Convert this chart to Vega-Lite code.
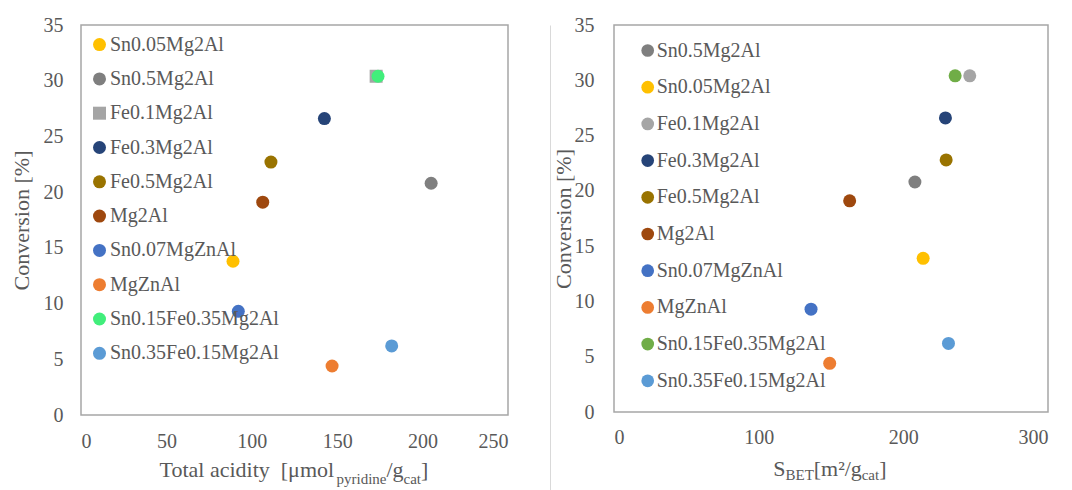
{
  "$schema": "https://vega.github.io/schema/vega-lite/v6.json",
  "padding": {"left": 9, "top": 14, "right": 0, "bottom": 0},
  "bounds": "flush",
  "spacing": 42,
  "datasets": {
    "left": [
      {"series": "Sn0.05Mg2Al", "x": 89, "y": 13.8},
      {"series": "Sn0.5Mg2Al", "x": 205, "y": 20.8},
      {"series": "Fe0.1Mg2Al", "x": 172.8, "y": 30.4},
      {"series": "Fe0.3Mg2Al", "x": 142.5, "y": 26.6},
      {"series": "Fe0.5Mg2Al", "x": 111.2, "y": 22.7},
      {"series": "Mg2Al", "x": 106.4, "y": 19.1},
      {"series": "Sn0.07MgZnAl", "x": 92.1, "y": 9.3},
      {"series": "MgZnAl", "x": 147, "y": 4.4},
      {"series": "Sn0.15Fe0.35Mg2Al", "x": 173.9, "y": 30.4},
      {"series": "Sn0.35Fe0.15Mg2Al", "x": 181.9, "y": 6.2}
    ],
    "right": [
      {"series": "Sn0.5Mg2Al", "x": 208, "y": 20.8},
      {"series": "Sn0.05Mg2Al", "x": 213.7, "y": 13.9},
      {"series": "Fe0.1Mg2Al", "x": 245.9, "y": 30.4},
      {"series": "Fe0.3Mg2Al", "x": 229.1, "y": 26.6},
      {"series": "Fe0.5Mg2Al", "x": 229.6, "y": 22.8},
      {"series": "Mg2Al", "x": 162.9, "y": 19.1},
      {"series": "Sn0.07MgZnAl", "x": 136.2, "y": 9.3},
      {"series": "MgZnAl", "x": 149.1, "y": 4.4},
      {"series": "Sn0.15Fe0.35Mg2Al", "x": 235.8, "y": 30.4},
      {"series": "Sn0.35Fe0.15Mg2Al", "x": 231.2, "y": 6.2}
    ]
  },
  "hconcat": [
    {
      "width": 427,
      "height": 390,
      "data": {"name": "left"},
      "layer": [
        {
          "mark": {"type": "point", "filled": true, "opacity": 1, "strokeWidth": 0},
          "encoding": {
            "x": {"field": "x", "type": "quantitative", "scale": {"domain": [0, 250], "nice": false, "zero": false},
              "axis": {"orient": "bottom", "values": [0, 50, 100, 150, 200, 250], "title": "Total acidity\u00a0 [μmol", "titleX": 78, "titleY": 61.5, "titleAlign": "left", "titleBaseline": "alphabetic", "titleAngle": 0}},
            "y": {"field": "y", "type": "quantitative", "scale": {"domain": [0, 35], "nice": false},
              "axis": {"values": [0, 5, 10, 15, 20, 25, 30, 35], "title": "Conversion [%]", "titleX": -60, "titleAlign": "center", "titleBaseline": "middle", "labelPadding": 18}},
            "color": {"field": "series", "type": "nominal",
              "scale": {"domain": ["Sn0.05Mg2Al", "Sn0.5Mg2Al", "Fe0.1Mg2Al", "Fe0.3Mg2Al", "Fe0.5Mg2Al", "Mg2Al", "Sn0.07MgZnAl", "MgZnAl", "Sn0.15Fe0.35Mg2Al", "Sn0.35Fe0.15Mg2Al"],
                "range": ["#FFC000", "#7F7F7F", "#A5A5A5", "#264478", "#997300", "#9E480E", "#4472C4", "#ED7D31", "#41EE7B", "#5B9BD5"]},
              "legend": {"title": null, "orient": "none", "legendX": 8.5, "legendY": 9.6, "rowPadding": 14.3, "labelOffset": 0.5, "symbolSize": 121}},
            "shape": {"field": "series", "type": "nominal",
              "scale": {"domain": ["Sn0.05Mg2Al", "Sn0.5Mg2Al", "Fe0.1Mg2Al", "Fe0.3Mg2Al", "Fe0.5Mg2Al", "Mg2Al", "Sn0.07MgZnAl", "MgZnAl", "Sn0.15Fe0.35Mg2Al", "Sn0.35Fe0.15Mg2Al"],
                "range": ["circle", "circle", "square", "circle", "circle", "circle", "circle", "circle", "circle", "circle"]}},
            "size": {"field": "series", "type": "nominal",
              "scale": {"domain": ["Sn0.05Mg2Al", "Sn0.5Mg2Al", "Fe0.1Mg2Al", "Fe0.3Mg2Al", "Fe0.5Mg2Al", "Mg2Al", "Sn0.07MgZnAl", "MgZnAl", "Sn0.15Fe0.35Mg2Al", "Sn0.35Fe0.15Mg2Al"],
                "range": [169, 169, 256, 169, 169, 169, 169, 169, 90, 169]},
              "legend": null}
          }
        },
        {
          "mark": {"type": "point", "opacity": 0},
          "encoding": {
            "x": {"field": "x", "type": "quantitative", "axis": {"orient": "bottom", "labels": false, "title": "pyridine", "titleFontSize": 15, "titleX": 255, "titleY": 68, "titleAlign": "left", "titleBaseline": "alphabetic", "titleAngle": 0}},
            "y": {"field": "y", "type": "quantitative", "scale": {"domain": [0, 35], "nice": false},
              "axis": {"values": [0, 5, 10, 15, 20, 25, 30, 35], "title": "Conversion [%]", "titleX": -60, "titleAlign": "center", "titleBaseline": "middle", "labelPadding": 18}}
          }
        },
        {
          "mark": {"type": "point", "opacity": 0},
          "encoding": {
            "x": {"field": "x", "type": "quantitative", "axis": {"orient": "bottom", "labels": false, "title": "/g", "titleX": 305, "titleY": 61.5, "titleAlign": "left", "titleBaseline": "alphabetic", "titleAngle": 0}},
            "y": {"field": "y", "type": "quantitative", "scale": {"domain": [0, 35], "nice": false},
              "axis": {"values": [0, 5, 10, 15, 20, 25, 30, 35], "title": "Conversion [%]", "titleX": -60, "titleAlign": "center", "titleBaseline": "middle", "labelPadding": 18}}
          }
        },
        {
          "mark": {"type": "point", "opacity": 0},
          "encoding": {
            "x": {"field": "x", "type": "quantitative", "axis": {"orient": "bottom", "labels": false, "title": "cat", "titleFontSize": 15, "titleX": 322, "titleY": 68, "titleAlign": "left", "titleBaseline": "alphabetic", "titleAngle": 0}},
            "y": {"field": "y", "type": "quantitative", "scale": {"domain": [0, 35], "nice": false},
              "axis": {"values": [0, 5, 10, 15, 20, 25, 30, 35], "title": "Conversion [%]", "titleX": -60, "titleAlign": "center", "titleBaseline": "middle", "labelPadding": 18}}
          }
        },
        {
          "mark": {"type": "point", "opacity": 0},
          "encoding": {
            "x": {"field": "x", "type": "quantitative", "axis": {"orient": "bottom", "labels": false, "title": "]", "titleX": 339.5, "titleY": 61.5, "titleAlign": "left", "titleBaseline": "alphabetic", "titleAngle": 0}},
            "y": {"field": "y", "type": "quantitative", "scale": {"domain": [0, 35], "nice": false},
              "axis": {"values": [0, 5, 10, 15, 20, 25, 30, 35], "title": "Conversion [%]", "titleX": -60, "titleAlign": "center", "titleBaseline": "middle", "labelPadding": 18}}
          }
        }
      ],
      "resolve": {"axis": {"x": "independent"}}
    },
    {
      "width": 22,
      "height": 466,
      "view": {"stroke": null},
      "data": {"name": "left"},
      "mark": {"type": "point", "opacity": 0},
      "encoding": {
        "y": {"field": "y", "type": "quantitative", "scale": {"domain": [0, 35], "nice": false},
          "axis": {"domain": true, "domainColor": "#D9D9D9", "domainWidth": 1, "labels": false, "ticks": false, "grid": false, "title": null}}
      }
    },
    {
      "width": 434,
      "height": 387,
      "data": {"name": "right"},
      "layer": [
        {
          "mark": {"type": "point", "filled": true, "opacity": 1, "strokeWidth": 0, "size": 169},
          "encoding": {
            "x": {"field": "x", "type": "quantitative", "scale": {"domain": [0, 300], "nice": false, "zero": false},
              "axis": {"orient": "bottom", "values": [0, 100, 200, 300], "labelPadding": 25, "title": "S", "titleX": 158.7, "titleY": 63, "titleAlign": "left", "titleBaseline": "alphabetic", "titleAngle": 0}},
            "y": {"field": "y", "type": "quantitative", "scale": {"domain": [0, 35], "nice": false},
              "axis": {"values": [0, 5, 10, 15, 20, 25, 30, 35], "title": "Conversion [%]", "titleX": -51, "titleAlign": "center", "titleBaseline": "middle", "labelPadding": 20}},
            "color": {"field": "series", "type": "nominal",
              "scale": {"domain": ["Sn0.5Mg2Al", "Sn0.05Mg2Al", "Fe0.1Mg2Al", "Fe0.3Mg2Al", "Fe0.5Mg2Al", "Mg2Al", "Sn0.07MgZnAl", "MgZnAl", "Sn0.15Fe0.35Mg2Al", "Sn0.35Fe0.15Mg2Al"],
                "range": ["#7F7F7F", "#FFC000", "#A5A5A5", "#264478", "#997300", "#9E480E", "#4472C4", "#ED7D31", "#70AD47", "#5B9BD5"]},
              "legend": {"title": null, "orient": "none", "legendX": 23.7, "legendY": 15.5, "rowPadding": 16.7, "labelOffset": -1, "symbolSize": 161}}
          }
        },
        {
          "mark": {"type": "point", "opacity": 0},
          "encoding": {
            "x": {"field": "x", "type": "quantitative", "axis": {"orient": "bottom", "labels": false, "title": "BET", "titleFontSize": 15, "titleX": 171, "titleY": 67.3, "titleAlign": "left", "titleBaseline": "alphabetic", "titleAngle": 0}},
            "y": {"field": "y", "type": "quantitative", "scale": {"domain": [0, 35], "nice": false},
              "axis": {"values": [0, 5, 10, 15, 20, 25, 30, 35], "title": "Conversion [%]", "titleX": -51, "titleAlign": "center", "titleBaseline": "middle", "labelPadding": 20}}
          }
        },
        {
          "mark": {"type": "point", "opacity": 0},
          "encoding": {
            "x": {"field": "x", "type": "quantitative", "axis": {"orient": "bottom", "labels": false, "title": "[m²/g", "titleX": 199.2, "titleY": 63, "titleAlign": "left", "titleBaseline": "alphabetic", "titleAngle": 0}},
            "y": {"field": "y", "type": "quantitative", "scale": {"domain": [0, 35], "nice": false},
              "axis": {"values": [0, 5, 10, 15, 20, 25, 30, 35], "title": "Conversion [%]", "titleX": -51, "titleAlign": "center", "titleBaseline": "middle", "labelPadding": 20}}
          }
        },
        {
          "mark": {"type": "point", "opacity": 0},
          "encoding": {
            "x": {"field": "x", "type": "quantitative", "axis": {"orient": "bottom", "labels": false, "title": "cat", "titleFontSize": 15, "titleX": 247.2, "titleY": 67.3, "titleAlign": "left", "titleBaseline": "alphabetic", "titleAngle": 0}},
            "y": {"field": "y", "type": "quantitative", "scale": {"domain": [0, 35], "nice": false},
              "axis": {"values": [0, 5, 10, 15, 20, 25, 30, 35], "title": "Conversion [%]", "titleX": -51, "titleAlign": "center", "titleBaseline": "middle", "labelPadding": 20}}
          }
        },
        {
          "mark": {"type": "point", "opacity": 0},
          "encoding": {
            "x": {"field": "x", "type": "quantitative", "axis": {"orient": "bottom", "labels": false, "title": "]", "titleX": 264.7, "titleY": 63, "titleAlign": "left", "titleBaseline": "alphabetic", "titleAngle": 0}},
            "y": {"field": "y", "type": "quantitative", "scale": {"domain": [0, 35], "nice": false},
              "axis": {"values": [0, 5, 10, 15, 20, 25, 30, 35], "title": "Conversion [%]", "titleX": -51, "titleAlign": "center", "titleBaseline": "middle", "labelPadding": 20}}
          }
        }
      ],
      "resolve": {"axis": {"x": "independent"}}
    }
  ],
  "resolve": {
    "scale": {"color": "independent", "shape": "independent", "size": "independent"},
    "legend": {"color": "independent", "shape": "independent", "size": "independent"}
  },
  "config": {
    "font": "Liberation Serif, Times New Roman, serif",
    "background": "white",
    "view": {"stroke": "#A6A6A6", "strokeWidth": 1.5},
    "axis": {
      "labelFont": "Liberation Serif, Times New Roman, serif", "labelFontSize": 20, "labelColor": "#595959",
      "titleFont": "Liberation Serif, Times New Roman, serif", "titleFontSize": 22, "titleColor": "#595959", "titleFontWeight": "normal",
      "grid": false, "ticks": false, "tickSize": 0, "domain": false
    },
    "axisX": {"labelBaseline": "middle", "labelPadding": 26},
    "legend": {
      "labelFont": "Liberation Serif, Times New Roman, serif", "labelFontSize": 20, "labelColor": "#595959",
      "symbolStrokeWidth": 0, "padding": 0, "symbolOpacity": 1, "labelLimit": 400
    }
  }
}
